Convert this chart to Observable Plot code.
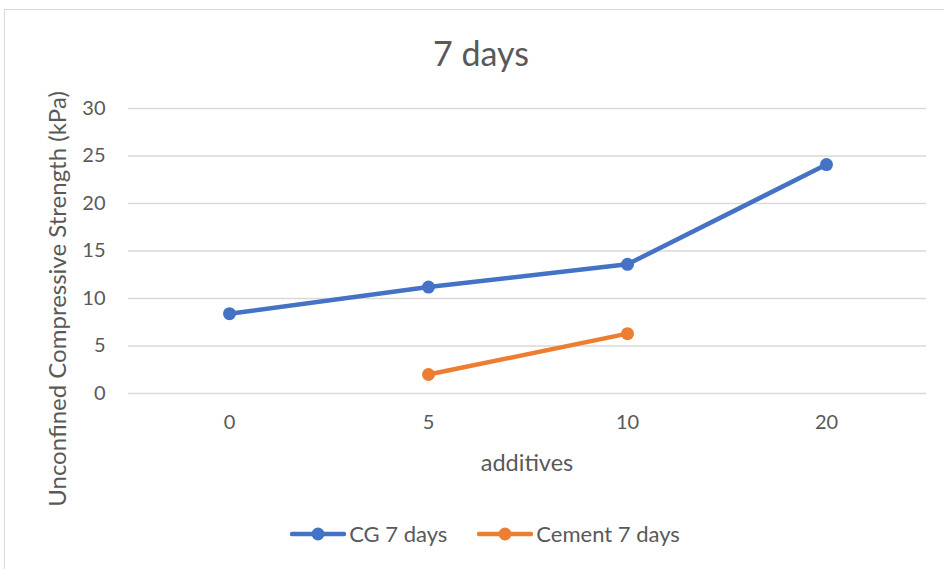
<!DOCTYPE html>
<html>
<head>
<meta charset="utf-8">
<script src="https://cdn.jsdelivr.net/npm/d3@7"></script>
<script src="https://cdn.jsdelivr.net/npm/@observablehq/plot@0.6"></script>
<style>
  html, body { margin: 0; padding: 0; background: #fff; }
  #chart { position: relative; width: 944px; height: 569px; font-family: Lato, "Open Sans", sans-serif; color: #595959; overflow: hidden; }
  #frame { position: absolute; left: 4px; top: 9px; width: 1000px; height: 600px; border-left: 1.5px solid #d9d9d9; border-top: 1.5px solid #d9d9d9; }
  #title { position: absolute; left: 4px; width: 954px; top: 36px; text-align: center; font-size: 34px; line-height: 1; }
  #xlabel { position: absolute; left: 128px; width: 798px; top: 451px; text-align: center; font-size: 23.5px; line-height: 1; }
  #ylabel { position: absolute; left: 57px; top: 299px; transform: translate(-50%, -50%) rotate(-90deg); white-space: nowrap; font-size: 24px; line-height: 1; }
  #legend { position: absolute; left: 0; width: 970px; top: 522px; display: flex; justify-content: center; gap: 30px; font-size: 22px; line-height: 24px; }
  .item { display: flex; align-items: center; gap: 3px; }
  svg.plot { position: absolute; left: 0; top: 0; }
</style>
</head>
<body>
<div id="chart">
  <div id="frame"></div>
</div>
<script>
const categories = ["0", "5", "10", "20"];
const cgValues = [8.4, 11.2, 13.6, 24.1];
const cementValues = [null, 2.0, 6.3, null];
const yTicks = [0, 5, 10, 15, 20, 25, 30];
const seriesNames = ["CG 7 days", "Cement 7 days"];
const seriesColors = ["#4472C4", "#ED7D31"];
const titleText = "7 days";
const xTitle = "additives";
const yTitle = "Unconfined Compressive Strength (kPa)";

const rows = [];
categories.forEach((c, i) => {
  if (cgValues[i] != null) rows.push({x: c, y: cgValues[i], s: seriesNames[0]});
  if (cementValues[i] != null) rows.push({x: c, y: cementValues[i], s: seriesNames[1]});
});

const chart = document.getElementById("chart");

const plot = Plot.plot({
  width: 944,
  height: 569,
  marginLeft: 128,
  marginRight: 18,
  marginTop: 108,
  marginBottom: 176,
  style: {fontFamily: "Lato, 'Open Sans', sans-serif", fontSize: "20px", color: "#595959", background: "transparent", overflow: "visible"},
  x: {type: "point", domain: categories, padding: 0.5, label: null, tickSize: 0, tickPadding: 21},
  y: {domain: [0, 30], ticks: yTicks, label: null, tickSize: 0, tickPadding: 23},
  color: {domain: seriesNames, range: seriesColors},
  marks: [
    Plot.gridY(yTicks, {stroke: "#d9d9d9", strokeOpacity: 1, strokeWidth: 1.5}),
    Plot.line(rows, {x: "x", y: "y", z: "s", stroke: "s", strokeWidth: 4.5}),
    Plot.dot(rows, {x: "x", y: "y", fill: "s", r: 6.5})
  ]
});
chart.appendChild(plot);

const t = document.createElement("div"); t.id = "title"; t.textContent = titleText; chart.appendChild(t);
const xl = document.createElement("div"); xl.id = "xlabel"; xl.textContent = xTitle; chart.appendChild(xl);
const yl = document.createElement("div"); yl.id = "ylabel"; yl.textContent = yTitle; chart.appendChild(yl);

const lg = document.createElement("div"); lg.id = "legend";
seriesNames.forEach((name, i) => {
  const item = document.createElement("div"); item.className = "item";
  item.innerHTML = `<svg width="56" height="16"><line x1="2" x2="54" y1="8" y2="8" stroke="${seriesColors[i]}" stroke-width="4.5" stroke-linecap="round"/><circle cx="28" cy="8" r="6.5" fill="${seriesColors[i]}"/></svg><span>${name}</span>`;
  lg.appendChild(item);
});
chart.appendChild(lg);
</script>
</body>
</html>
